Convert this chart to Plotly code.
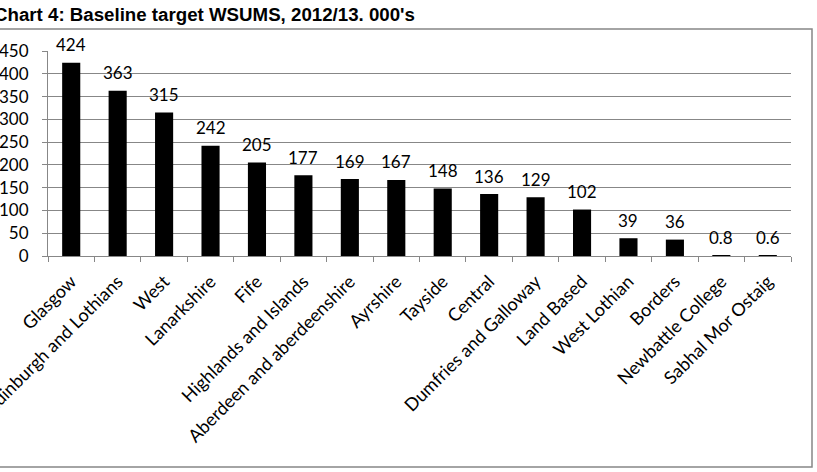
import plotly.graph_objects as go

categories = ["Glasgow", "Edinburgh and Lothians", "West", "Lanarkshire", "Fife",
              "Highlands and Islands", "Aberdeen and aberdeenshire", "Ayrshire", "Tayside",
              "Central", "Dumfries and Galloway", "Land Based", "West Lothian", "Borders",
              "Newbattle College", "Sabhal Mor Ostaig"]
values = [424, 363, 315, 242, 205, 177, 169, 167, 148, 136, 129, 102, 39, 36, 0.8, 0.6]
labels = ["424", "363", "315", "242", "205", "177", "169", "167", "148", "136", "129",
          "102", "39", "36", "0.8", "0.6"]
title_text = "Chart 4: Baseline target WSUMS, 2012/13. 000's"

W, H = 817, 472
L, R, T, B = 48, 791, 51, 256

def px(x):
    return (x - L) / (R - L)

def py(y):
    return (B - y) / (B - T)

fig = go.Figure(go.Bar(
    x=categories, y=values,
    marker=dict(color="black", line=dict(width=0)),
))

annotations = [dict(x=c, y=v, text=t, xref="x", yref="y", showarrow=False,
                    yanchor="middle", yshift=18,
                    font=dict(family="Lato", size=17, color="black"))
               for c, v, t in zip(categories, values, labels)]
annotations.append(dict(text="<b>" + title_text + "</b>", xref="paper", yref="paper",
                        x=px(-8), y=py(14), xanchor="left", yanchor="middle",
                        showarrow=False,
                        font=dict(family="Liberation Sans", size=18.7, color="black")))

fig.update_layout(
    width=W, height=H,
    margin=dict(l=L, r=W - R, t=T, b=H - B, autoexpand=False),
    paper_bgcolor="white", plot_bgcolor="white",
    bargap=0.61,
    showlegend=False,
    font=dict(family="Lato", size=16, color="black"),
    xaxis=dict(
        tickangle=-45, showgrid=False, showline=True, linecolor="#878787", linewidth=1,
        ticks="outside", tickson="boundaries", ticklen=5, tickcolor="#878787",
        ticklabelstandoff=7,
        tickfont=dict(family="Lato", size=18, color="black"), automargin=False,
    ),
    yaxis=dict(
        range=[0, 450], dtick=50, showgrid=True, gridcolor="#878787", gridwidth=1,
        showline=True, linecolor="#878787", linewidth=1,
        ticks="outside", ticklen=5, tickcolor="#878787", ticklabelstandoff=10,
        tickfont=dict(family="Lato", size=17, color="black"), zeroline=False,
        automargin=False,
    ),
    shapes=[dict(type="rect", xref="paper", yref="paper",
                 x0=px(-20), x1=px(812), y0=py(467), y1=py(29),
                 line=dict(color="#878787", width=1.5), layer="below")],
    annotations=annotations,
)

fig.write_html("out.html")
